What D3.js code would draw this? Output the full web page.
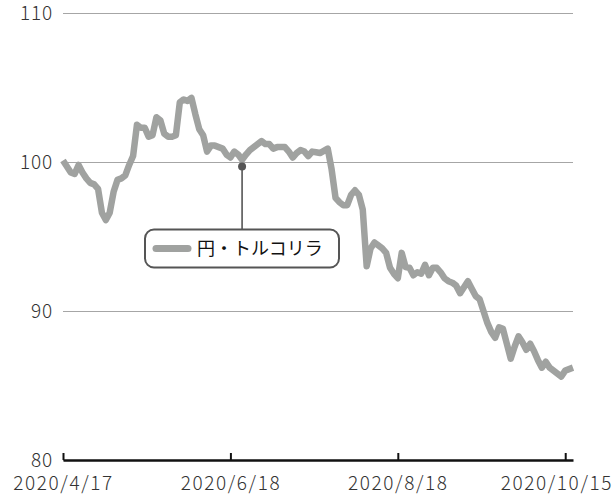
<!DOCTYPE html>
<html>
<head>
<meta charset="utf-8">
<script src="https://cdn.jsdelivr.net/npm/d3@7"></script>
<style>
  body { margin: 0; background: #fff; }
  svg { display: block; font-family: "Noto Sans CJK JP", "Noto Sans", sans-serif; }
</style>
</head>
<body>
<svg id="chart" width="614" height="496"></svg>
<script>
// 円・トルコリラ, one value per trading day (2020/4/17 .. 2020/10/19)
const rates = [
    100.1, 99.7, 99.3, 99.2, 99.8, 99.3, 98.9, 98.6, 98.5, 98.2,
    96.6, 96.1, 96.6, 98.0, 98.8, 98.9, 99.1, 99.8, 100.4, 102.5,
    102.3, 102.3, 101.7, 101.8, 103.0, 102.8, 101.9, 101.7, 101.7, 101.8,
    104.0, 104.2, 104.1, 104.3, 103.2, 102.2, 101.8, 100.7, 101.1, 101.1,
    101.0, 100.9, 100.5, 100.3, 100.7, 100.5, 100.15, 100.5, 100.8, 101.0,
    101.2, 101.4, 101.2, 101.2, 100.9, 101.0, 101.0, 101.0, 100.7, 100.3,
    100.6, 100.8, 100.7, 100.4, 100.7, 100.65, 100.6, 100.75, 100.9, 99.5,
    97.6, 97.3, 97.1, 97.1, 97.8, 98.1, 97.8, 96.8, 93.0, 94.2,
    94.6, 94.4, 94.2, 93.9, 92.9, 92.5, 92.2, 93.9, 92.95, 92.9,
    92.4, 92.6, 92.5, 93.1, 92.4, 92.9, 92.9, 92.6, 92.2, 92.0,
    91.9, 91.7, 91.2, 91.6, 92.0, 91.5, 91.0, 90.8, 90.0, 89.2,
    88.6, 88.2, 88.9, 88.8, 87.8, 86.8, 87.6, 88.3, 87.9, 87.4,
    87.8, 87.3, 86.7, 86.2, 86.6, 86.2, 86.0, 85.8, 85.6, 86.0,
    86.1, 86.2
];

const seriesName = '円・トルコリラ';
const xTickIndex = [0, 43, 86, 129];
const xTickLabels = ['2020/4/17', '2020/6/18', '2020/8/18', '2020/10/15'];
const yTicks = [80, 90, 100, 110];
const markIndex = 46;
const markValue = 99.7;

const W = 614, H = 496;
const plotLeft = 63, plotRight = 573, plotTop = 13, plotBottom = 460;

const svg = d3.select('#chart');

const x = d3.scaleLinear().domain([0, rates.length - 1]).range([plotLeft, plotRight]);
const y = d3.scaleLinear().domain([80, 110]).range([plotBottom, plotTop]);

// gridlines + y labels
const yAxis = svg.append('g')
    .attr('transform', 'translate(' + plotLeft + ',0)')
    .call(d3.axisLeft(y).tickValues(yTicks).tickSize(-(plotRight - plotLeft)).tickPadding(10).tickFormat(d3.format('d')));
yAxis.select('.domain').remove();
yAxis.selectAll('.tick line')
    .attr('stroke', '#a6a6a6')
    .attr('stroke-width', 1)
    .attr('shape-rendering', 'crispEdges');
yAxis.selectAll('.tick text')
    .attr('fill', '#333')
    .attr('font-size', 19)
    .attr('font-weight', 300)
    .attr('letter-spacing', 0.8)
    .attr('font-family', '"Noto Sans CJK JP", sans-serif')
    .attr('dy', '0.34em');

// the line
const line = d3.line()
    .x(function(d, i) { return x(i); })
    .y(function(d) { return y(d); });

svg.append('path')
    .datum(rates)
    .attr('fill', 'none')
    .attr('stroke', '#a0a2a0')
    .attr('stroke-width', 6.5)
    .attr('stroke-linejoin', 'round')
    .attr('d', line);

// x axis (black, ticks pointing up)
const xAxis = svg.append('g')
    .attr('transform', 'translate(0,' + plotBottom + ')')
    .call(d3.axisBottom(x)
        .tickValues(xTickIndex)
        .tickSize(-7)
        .tickSizeOuter(0)
        .tickPadding(17)
        .tickFormat(function(d, i) { return xTickLabels[i]; }));
xAxis.select('.domain')
    .attr('stroke', '#111')
    .attr('stroke-width', 2.6);
xAxis.selectAll('.tick line')
    .attr('stroke', '#111')
    .attr('stroke-width', 2);
xAxis.selectAll('.tick text')
    .attr('fill', '#333')
    .attr('font-size', 19)
    .attr('font-weight', 300)
    .attr('letter-spacing', 1.6)
    .attr('font-family', '"Noto Sans CJK JP", sans-serif');
// keep the last label inside the picture
xAxis.selectAll('.tick text').each(function() {
    const bb = this.getBBox();
    const tx = +this.parentNode.getAttribute('transform').match(/translate\(([\d.]+)/)[1];
    const over = tx + bb.x + bb.width - (W - 1);
    if (over > 0) d3.select(this).attr('x', -over);
});

// annotation: dot, leader and legend box
const mx = x(markIndex), my = y(markValue);
const boxTop = 229.5, boxH = 38, boxL = 145, boxW = 194;

svg.append('line')
    .attr('x1', mx).attr('x2', mx)
    .attr('y1', my).attr('y2', boxTop)
    .attr('stroke', '#555')
    .attr('stroke-width', 1.6);
svg.append('circle')
    .attr('cx', mx).attr('cy', my).attr('r', 4)
    .attr('fill', '#555');

svg.append('rect')
    .attr('x', boxL).attr('y', boxTop)
    .attr('width', boxW).attr('height', boxH)
    .attr('rx', 9)
    .attr('fill', '#fff')
    .attr('stroke', '#555')
    .attr('stroke-width', 2);
svg.append('line')
    .attr('x1', boxL + 11).attr('x2', boxL + 43)
    .attr('y1', boxTop + boxH / 2).attr('y2', boxTop + boxH / 2)
    .attr('stroke', '#a0a2a0')
    .attr('stroke-width', 7)
    .attr('stroke-linecap', 'round');
svg.append('text')
    .attr('x', boxL + 52)
    .attr('y', boxTop + boxH / 2)
    .attr('dy', '0.36em')
    .attr('font-size', 18)
    .attr('fill', '#111')
    .text(seriesName);
</script>
</body>
</html>
